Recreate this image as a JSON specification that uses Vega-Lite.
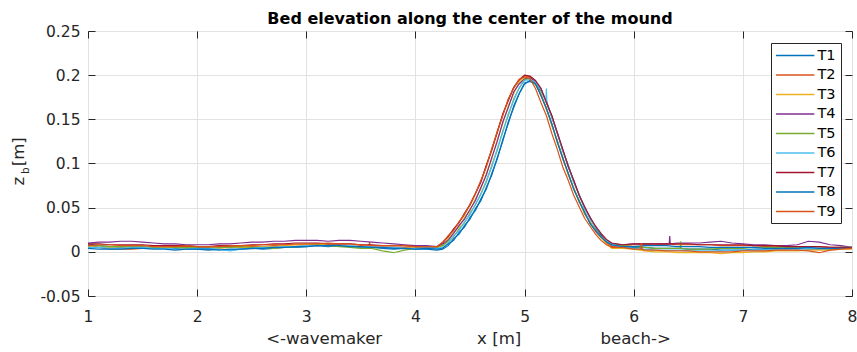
{
  "$schema": "https://vega.github.io/schema/vega-lite/v6.json",
  "width": 764,
  "height": 265,
  "autosize": {"type": "none"},
  "padding": {"left": 88, "top": 31, "right": 5, "bottom": 56},
  "config": {
    "view": {"stroke": "#262626", "strokeWidth": 1},
    "axis": {"labelFont": "DejaVu Sans", "titleFont": "DejaVu Sans", "labelColor": "#262626", "titleColor": "#262626", "tickColor": "#262626", "gridColor": "#e2e2e2", "gridWidth": 1, "domain": false, "titleFontWeight": "normal"}
  },
  "title": {"text": "Bed elevation along the center of the mound", "font": "DejaVu Sans", "fontSize": 16, "fontWeight": "bold", "color": "#000000", "anchor": "middle", "frame": "group", "baseline": "alphabetic", "offset": 8, "dy": 24},
  "data": {"values": [
    {"x":1.0,"T1":0.009,"T2":0.008,"T3":0.006,"T4":0.010,"T5":0.007,"T6":0.005,"T7":0.009,"T8":0.004,"T9":0.007},
    {"x":1.1,"T1":0.007,"T2":0.005,"T3":0.005,"T4":0.011,"T5":0.007,"T6":0.005,"T7":0.009,"T8":0.003,"T9":0.008},
    {"x":1.2,"T1":0.006,"T2":0.003,"T3":0.005,"T4":0.011,"T5":0.006,"T6":0.004,"T7":0.008,"T8":0.003,"T9":0.008},
    {"x":1.3,"T1":0.005,"T2":0.003,"T3":0.006,"T4":0.012,"T5":0.006,"T6":0.004,"T7":0.008,"T8":0.003,"T9":0.007},
    {"x":1.4,"T1":0.006,"T2":0.003,"T3":0.005,"T4":0.012,"T5":0.006,"T6":0.005,"T7":0.008,"T8":0.004,"T9":0.007},
    {"x":1.5,"T1":0.005,"T2":0.004,"T3":0.005,"T4":0.011,"T5":0.006,"T6":0.005,"T7":0.008,"T8":0.004,"T9":0.007},
    {"x":1.6,"T1":0.004,"T2":0.004,"T3":0.004,"T4":0.010,"T5":0.005,"T6":0.004,"T7":0.007,"T8":0.003,"T9":0.006},
    {"x":1.7,"T1":0.005,"T2":0.005,"T3":0.005,"T4":0.009,"T5":0.006,"T6":0.004,"T7":0.007,"T8":0.003,"T9":0.006},
    {"x":1.8,"T1":0.004,"T2":0.006,"T3":0.005,"T4":0.009,"T5":0.005,"T6":0.003,"T7":0.007,"T8":0.002,"T9":0.006},
    {"x":1.9,"T1":0.003,"T2":0.006,"T3":0.004,"T4":0.008,"T5":0.005,"T6":0.003,"T7":0.007,"T8":0.003,"T9":0.007},
    {"x":2.0,"T1":0.003,"T2":0.005,"T3":0.005,"T4":0.008,"T5":0.005,"T6":0.004,"T7":0.006,"T8":0.003,"T9":0.006},
    {"x":2.1,"T1":0.002,"T2":0.005,"T3":0.004,"T4":0.008,"T5":0.006,"T6":0.004,"T7":0.006,"T8":0.003,"T9":0.006},
    {"x":2.2,"T1":0.003,"T2":0.006,"T3":0.004,"T4":0.009,"T5":0.005,"T6":0.003,"T7":0.007,"T8":0.002,"T9":0.006},
    {"x":2.3,"T1":0.002,"T2":0.006,"T3":0.005,"T4":0.009,"T5":0.005,"T6":0.001,"T7":0.007,"T8":0.003,"T9":0.007},
    {"x":2.4,"T1":0.003,"T2":0.005,"T3":0.005,"T4":0.010,"T5":0.006,"T6":0.003,"T7":0.007,"T8":0.003,"T9":0.007},
    {"x":2.5,"T1":0.004,"T2":0.006,"T3":0.005,"T4":0.011,"T5":0.005,"T6":0.004,"T7":0.008,"T8":0.004,"T9":0.007},
    {"x":2.6,"T1":0.003,"T2":0.006,"T3":0.006,"T4":0.011,"T5":0.005,"T6":0.005,"T7":0.008,"T8":0.004,"T9":0.008},
    {"x":2.7,"T1":0.004,"T2":0.007,"T3":0.006,"T4":0.012,"T5":0.004,"T6":0.005,"T7":0.009,"T8":0.005,"T9":0.008},
    {"x":2.8,"T1":0.005,"T2":0.008,"T3":0.007,"T4":0.012,"T5":0.005,"T6":0.006,"T7":0.009,"T8":0.005,"T9":0.008},
    {"x":2.9,"T1":0.005,"T2":0.008,"T3":0.008,"T4":0.013,"T5":0.006,"T6":0.006,"T7":0.010,"T8":0.006,"T9":0.009},
    {"x":3.0,"T1":0.006,"T2":0.008,"T3":0.008,"T4":0.013,"T5":0.007,"T6":0.007,"T7":0.010,"T8":0.006,"T9":0.009},
    {"x":3.1,"T1":0.007,"T2":0.007,"T3":0.009,"T4":0.013,"T5":0.008,"T6":0.007,"T7":0.010,"T8":0.007,"T9":0.009},
    {"x":3.2,"T1":0.006,"T2":0.008,"T3":0.008,"T4":0.012,"T5":0.007,"T6":0.007,"T7":0.009,"T8":0.007,"T9":0.010},
    {"x":3.3,"T1":0.007,"T2":0.007,"T3":0.008,"T4":0.013,"T5":0.006,"T6":0.008,"T7":0.009,"T8":0.007,"T9":0.009},
    {"x":3.4,"T1":0.006,"T2":0.006,"T3":0.007,"T4":0.013,"T5":0.005,"T6":0.007,"T7":0.009,"T8":0.006,"T9":0.009},
    {"x":3.5,"T1":0.005,"T2":0.007,"T3":0.006,"T4":0.012,"T5":0.004,"T6":0.006,"T7":0.008,"T8":0.006,"T9":0.008},
    {"x":3.575,"T2":0.006},
    {"x":3.58,"T2":0.011},
    {"x":3.585,"T2":0.006},
    {"x":3.6,"T1":0.005,"T2":0.006,"T3":0.006,"T4":0.011,"T5":0.004,"T6":0.006,"T7":0.008,"T8":0.005,"T9":0.007},
    {"x":3.7,"T1":0.004,"T2":0.005,"T3":0.005,"T4":0.010,"T5":0.001,"T6":0.005,"T7":0.007,"T8":0.005,"T9":0.007},
    {"x":3.8,"T1":0.003,"T2":0.005,"T3":0.005,"T4":0.009,"T5":-0.001,"T6":0.005,"T7":0.007,"T8":0.004,"T9":0.007},
    {"x":3.9,"T1":0.004,"T2":0.005,"T3":0.004,"T4":0.008,"T5":0.002,"T6":0.004,"T7":0.007,"T8":0.004,"T9":0.007},
    {"x":4.0,"T1":0.003,"T2":0.005,"T3":0.005,"T4":0.007,"T5":0.004,"T6":0.004,"T7":0.006,"T8":0.003,"T9":0.006},
    {"x":4.1,"T1":0.003,"T2":0.006,"T3":0.004,"T4":0.007,"T5":0.005,"T6":0.005,"T7":0.006,"T8":0.004,"T9":0.006},
    {"x":4.2,"T1":0.002,"T2":0.006,"T3":0.005,"T4":0.006,"T5":0.005,"T6":0.004,"T7":0.006,"T8":0.003,"T9":0.006},
    {"x":4.25,"T1":0.003,"T2":0.010,"T3":0.007,"T4":0.009,"T5":0.007,"T6":0.005,"T7":0.011,"T8":0.004,"T9":0.011},
    {"x":4.30,"T1":0.007,"T2":0.018,"T3":0.015,"T4":0.013,"T5":0.012,"T6":0.010,"T7":0.017,"T8":0.009,"T9":0.018},
    {"x":4.35,"T1":0.015,"T2":0.025,"T3":0.022,"T4":0.021,"T5":0.017,"T6":0.018,"T7":0.026,"T8":0.013,"T9":0.024},
    {"x":4.40,"T1":0.020,"T2":0.034,"T3":0.028,"T4":0.030,"T5":0.026,"T6":0.024,"T7":0.033,"T8":0.022,"T9":0.034},
    {"x":4.45,"T1":0.030,"T2":0.042,"T3":0.039,"T4":0.037,"T5":0.033,"T6":0.034,"T7":0.044,"T8":0.028,"T9":0.043},
    {"x":4.50,"T1":0.037,"T2":0.054,"T3":0.047,"T4":0.048,"T5":0.044,"T6":0.042,"T7":0.053,"T8":0.039,"T9":0.053},
    {"x":4.55,"T1":0.049,"T2":0.066,"T3":0.060,"T4":0.058,"T5":0.053,"T6":0.054,"T7":0.066,"T8":0.047,"T9":0.066},
    {"x":4.60,"T1":0.058,"T2":0.080,"T3":0.071,"T4":0.073,"T5":0.066,"T6":0.065,"T7":0.079,"T8":0.060,"T9":0.081},
    {"x":4.65,"T1":0.073,"T2":0.098,"T3":0.089,"T4":0.087,"T5":0.079,"T6":0.081,"T7":0.098,"T8":0.071,"T9":0.096},
    {"x":4.70,"T1":0.087,"T2":0.115,"T3":0.105,"T4":0.107,"T5":0.098,"T6":0.096,"T7":0.116,"T8":0.089,"T9":0.117},
    {"x":4.75,"T1":0.107,"T2":0.137,"T3":0.127,"T4":0.125,"T5":0.115,"T6":0.117,"T7":0.135,"T8":0.105,"T9":0.136},
    {"x":4.80,"T1":0.125,"T2":0.155,"T3":0.145,"T4":0.147,"T5":0.137,"T6":0.135,"T7":0.156,"T8":0.127,"T9":0.154},
    {"x":4.85,"T1":0.147,"T2":0.172,"T3":0.165,"T4":0.163,"T5":0.154,"T6":0.156,"T7":0.171,"T8":0.145,"T9":0.173},
    {"x":4.90,"T1":0.163,"T2":0.186,"T3":0.179,"T4":0.181,"T5":0.173,"T6":0.171,"T7":0.186,"T8":0.165,"T9":0.185},
    {"x":4.95,"T1":0.179,"T2":0.194,"T3":0.192,"T4":0.190,"T5":0.185,"T6":0.186,"T7":0.195,"T8":0.179,"T9":0.195},
    {"x":5.00,"T1":0.191,"T2":0.199,"T3":0.198,"T4":0.196,"T5":0.195,"T6":0.194,"T7":0.200,"T8":0.190,"T9":0.198},
    {"x":5.05,"T1":0.193,"T2":0.198,"T3":0.197,"T4":0.197,"T5":0.196,"T6":0.195,"T7":0.199,"T8":0.194,"T9":0.196},
    {"x":5.10,"T1":0.190,"T2":0.191,"T3":0.189,"T4":0.193,"T5":0.190,"T6":0.192,"T7":0.194,"T8":0.190,"T9":0.185},
    {"x":5.15,"T1":0.182,"T2":0.177,"T3":0.179,"T4":0.185,"T5":0.178,"T6":0.183,"T7":0.185,"T8":0.177,"T9":0.169},
    {"x":5.195,"T6":0.171},
    {"x":5.20,"T1":0.171,"T2":0.163,"T3":0.161,"T4":0.169,"T5":0.163,"T6":0.185,"T7":0.169,"T8":0.162,"T9":0.154},
    {"x":5.205,"T6":0.168},
    {"x":5.25,"T1":0.152,"T2":0.143,"T3":0.145,"T4":0.154,"T5":0.144,"T6":0.152,"T7":0.154,"T8":0.145,"T9":0.134},
    {"x":5.30,"T1":0.135,"T2":0.126,"T3":0.124,"T4":0.134,"T5":0.125,"T6":0.135,"T7":0.135,"T8":0.124,"T9":0.116},
    {"x":5.35,"T1":0.114,"T2":0.105,"T3":0.107,"T4":0.116,"T5":0.107,"T6":0.115,"T7":0.116,"T8":0.106,"T9":0.096},
    {"x":5.40,"T1":0.098,"T2":0.089,"T3":0.087,"T4":0.096,"T5":0.088,"T6":0.098,"T7":0.097,"T8":0.089,"T9":0.081},
    {"x":5.45,"T1":0.079,"T2":0.071,"T3":0.073,"T4":0.081,"T5":0.072,"T6":0.079,"T7":0.081,"T8":0.071,"T9":0.064},
    {"x":5.50,"T1":0.065,"T2":0.058,"T3":0.056,"T4":0.064,"T5":0.058,"T6":0.065,"T7":0.064,"T8":0.057,"T9":0.051},
    {"x":5.55,"T1":0.049,"T2":0.043,"T3":0.045,"T4":0.051,"T5":0.044,"T6":0.050,"T7":0.051,"T8":0.045,"T9":0.038},
    {"x":5.60,"T1":0.039,"T2":0.034,"T3":0.032,"T4":0.038,"T5":0.033,"T6":0.037,"T7":0.039,"T8":0.032,"T9":0.029},
    {"x":5.65,"T1":0.027,"T2":0.023,"T3":0.025,"T4":0.029,"T5":0.025,"T6":0.028,"T7":0.029,"T8":0.024,"T9":0.020},
    {"x":5.70,"T1":0.019,"T2":0.016,"T3":0.016,"T4":0.020,"T5":0.017,"T6":0.021,"T7":0.021,"T8":0.017,"T9":0.013},
    {"x":5.75,"T1":0.012,"T2":0.010,"T3":0.009,"T4":0.013,"T5":0.012,"T6":0.013,"T7":0.014,"T8":0.011,"T9":0.008},
    {"x":5.80,"T1":0.007,"T2":0.006,"T3":0.004,"T4":0.009,"T5":0.008,"T6":0.008,"T7":0.010,"T8":0.008,"T9":0.005},
    {"x":5.9,"T1":0.006,"T2":0.007,"T3":0.004,"T4":0.008,"T5":0.007,"T6":0.005,"T7":0.008,"T8":0.006,"T9":0.005},
    {"x":6.0,"T1":0.005,"T2":0.008,"T3":0.003,"T4":0.009,"T5":0.006,"T6":0.004,"T7":0.009,"T8":0.006,"T9":0.003},
    {"x":6.065,"T9":0.003},
    {"x":6.07,"T9":0.010},
    {"x":6.075,"T9":0.003},
    {"x":6.1,"T1":0.005,"T2":0.008,"T3":0.001,"T4":0.009,"T5":0.005,"T6":0.003,"T7":0.009,"T8":0.007,"T9":0.002},
    {"x":6.2,"T1":0.004,"T2":0.008,"T3":0.000,"T4":0.009,"T5":0.004,"T6":0.002,"T7":0.009,"T8":0.007,"T9":0.002},
    {"x":6.3,"T1":0.004,"T2":0.009,"T3":0.000,"T4":0.009,"T5":0.004,"T6":0.002,"T7":0.009,"T8":0.007,"T9":0.001},
    {"x":6.325,"T4":0.009},
    {"x":6.33,"T4":0.018},
    {"x":6.335,"T4":0.009},
    {"x":6.4,"T1":0.004,"T2":0.008,"T3":-0.001,"T4":0.010,"T5":0.004,"T6":0.002,"T7":0.009,"T8":0.006,"T9":0.001},
    {"x":6.425,"T5":0.004},
    {"x":6.43,"T5":0.012},
    {"x":6.435,"T5":0.004},
    {"x":6.5,"T1":0.003,"T2":0.008,"T3":-0.001,"T4":0.010,"T5":0.003,"T6":0.001,"T7":0.009,"T8":0.006,"T9":0.001},
    {"x":6.6,"T1":0.003,"T2":0.008,"T3":-0.001,"T4":0.010,"T5":0.003,"T6":0.001,"T7":0.008,"T8":0.006,"T9":0.000},
    {"x":6.7,"T1":0.003,"T2":0.008,"T3":-0.001,"T4":0.011,"T5":0.003,"T6":0.001,"T7":0.008,"T8":0.005,"T9":0.000},
    {"x":6.8,"T1":0.002,"T2":0.007,"T3":-0.002,"T4":0.012,"T5":0.004,"T6":0.001,"T7":0.008,"T8":0.005,"T9":0.000},
    {"x":6.9,"T1":0.002,"T2":0.007,"T3":-0.001,"T4":0.010,"T5":0.004,"T6":0.002,"T7":0.008,"T8":0.005,"T9":0.000},
    {"x":7.0,"T1":0.002,"T2":0.007,"T3":-0.001,"T4":0.009,"T5":0.004,"T6":0.002,"T7":0.008,"T8":0.005,"T9":0.001},
    {"x":7.1,"T1":0.003,"T2":0.007,"T3":0.000,"T4":0.008,"T5":0.005,"T6":0.002,"T7":0.007,"T8":0.005,"T9":0.001},
    {"x":7.2,"T1":0.003,"T2":0.006,"T3":0.000,"T4":0.008,"T5":0.005,"T6":0.002,"T7":0.007,"T8":0.004,"T9":0.001},
    {"x":7.3,"T1":0.003,"T2":0.006,"T3":0.001,"T4":0.007,"T5":0.005,"T6":0.003,"T7":0.007,"T8":0.004,"T9":0.002},
    {"x":7.4,"T1":0.003,"T2":0.006,"T3":0.001,"T4":0.007,"T5":0.005,"T6":0.003,"T7":0.006,"T8":0.004,"T9":0.002},
    {"x":7.5,"T1":0.004,"T2":0.005,"T3":0.001,"T4":0.008,"T5":0.005,"T6":0.003,"T7":0.006,"T8":0.004,"T9":0.002},
    {"x":7.6,"T1":0.003,"T2":0.005,"T3":0.002,"T4":0.012,"T5":0.004,"T6":0.004,"T7":0.006,"T8":0.005,"T9":0.001},
    {"x":7.7,"T1":0.003,"T2":0.006,"T3":0.002,"T4":0.011,"T5":0.004,"T6":0.004,"T7":0.006,"T8":0.004,"T9":-0.001},
    {"x":7.8,"T1":0.003,"T2":0.005,"T3":0.002,"T4":0.008,"T5":0.004,"T6":0.004,"T7":0.005,"T8":0.004,"T9":0.002},
    {"x":7.9,"T1":0.004,"T2":0.005,"T3":0.003,"T4":0.007,"T5":0.005,"T6":0.005,"T7":0.005,"T8":0.004,"T9":0.003},
    {"x":8.0,"T1":0.004,"T2":0.005,"T3":0.003,"T4":0.005,"T5":0.005,"T6":0.005,"T7":0.005,"T8":0.004,"T9":0.004}
  ]},
  "transform": [
    {"fold": ["T1","T2","T3","T4","T5","T6","T7","T8","T9"], "as": ["series","z"]},
    {"filter": "isValid(datum.z)"}
  ],
  "layer": [
    {
      "mark": {"type": "line", "strokeWidth": 1.2, "clip": true},
      "encoding": {
        "x": {"field": "x", "type": "quantitative",
              "scale": {"domain": [1, 8], "nice": false, "zero": false},
              "axis": {"orient": "bottom", "values": [1,2,3,4,5,6,7,8], "grid": true, "tickSize": -7, "labelPadding": 20, "labelFontSize": 15.5, "labelFlush": false,
                       "title": "<-wavemaker\u00a0\u00a0\u00a0\u00a0\u00a0\u00a0\u00a0\u00a0\u00a0\u00a0\u00a0\u00a0\u00a0\u00a0\u00a0\u00a0\u00a0\u00a0x [m]\u00a0\u00a0\u00a0\u00a0\u00a0\u00a0\u00a0\u00a0\u00a0\u00a0\u00a0\u00a0\u00a0\u00a0\u00a0beach->",
                       "titleFontSize": 16.6, "titleX": 380, "titleY": 47.5, "titleAlign": "center", "titleBaseline": "alphabetic", "titleAnchor": null}},
        "y": {"field": "z", "type": "quantitative",
              "scale": {"domain": [-0.05, 0.25], "nice": false, "zero": false},
              "axis": {"orient": "left", "values": [-0.05,0,0.05,0.1,0.15,0.2,0.25], "grid": true, "tickSize": -7, "labelPadding": 15, "labelFontSize": 15.5, "labelFlush": false,
                       "labelExpr": "replace(format(datum.value, '~g'), '\u2212', '-')",
                       "title": "\u200b\u00a0z\u00a0\u00a0[m]", "titleFontSize": 16.5, "titleAngle": 270, "titleX": -65, "titleAnchor": "middle", "titleAlign": "center", "titleBaseline": "alphabetic"}},
        "color": {"field": "series", "type": "nominal",
                  "scale": {"domain": ["T1","T2","T3","T4","T5","T6","T7","T8","T9"],
                            "range": ["#0072BD","#D95319","#EDB120","#7E2F8E","#77AC30","#4DBEEE","#A2142F","#0072BD","#D95319"]},
                  "legend": {"orient": "none", "legendX": 683, "legendY": 12, "title": null, "direction": "vertical",
                             "symbolType": "M-3,0H3", "symbolSize": 163, "symbolStrokeWidth": 1.5, "symbolOffset": 11.7,
                             "labelFont": "DejaVu Sans", "labelFontSize": 14.5, "labelColor": "#000000", "labelOffset": 14.7,
                             "padding": 5, "rowPadding": 4.5, "strokeColor": "#262626", "fillColor": "#ffffff"}}
      }
    },
    {
      "transform": [{"filter": "datum.series == 'T1'"}],
      "mark": {"type": "line", "opacity": 0},
      "encoding": {
        "x": {"field": "x", "type": "quantitative", "scale": {"domain": [1, 8], "nice": false, "zero": false},
              "axis": {"orient": "top", "values": [1,2,3,4,5,6,7,8], "labels": false, "grid": false, "tickSize": -7, "title": null}},
        "y": {"field": "z", "type": "quantitative", "scale": {"domain": [-0.05, 0.25], "nice": false, "zero": false},
              "axis": {"orient": "right", "values": [-0.05,0,0.05,0.1,0.15,0.2,0.25], "labels": false, "grid": false, "tickSize": -7, "title": null}}
      }
    },
    {
      "transform": [{"filter": "datum.series == 'T1'"}],
      "mark": {"type": "line", "opacity": 0},
      "encoding": {
        "x": {"field": "x", "type": "quantitative", "axis": null},
        "y": {"field": "z", "type": "quantitative",
              "axis": {"orient": "left", "labels": false, "ticks": false, "grid": false, "domain": false,
                       "title": "b\u00a0\u00a0\u00a0\u00a0\u200b", "titleFontSize": 10.5, "titleAngle": 270, "titleX": -60, "titleAnchor": "middle", "titleAlign": "center", "titleBaseline": "alphabetic"}}
      }
    }
  ],
  "resolve": {"axis": {"x": "independent", "y": "independent"}}
}
